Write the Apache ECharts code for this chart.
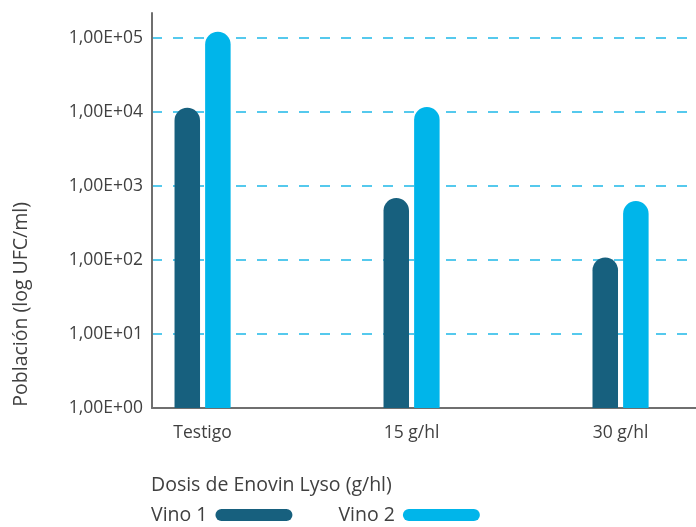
<!DOCTYPE html>
<html>
<head>
<meta charset="utf-8">
<script src="https://cdn.jsdelivr.net/npm/echarts@6/dist/echarts.min.js"></script>
<style>
html,body{margin:0;padding:0;background:#fff;}
#chart{width:696px;height:527px;}
</style>
</head>
<body>
<div id="chart"></div>
<script>
var categories = ['Testigo', '15 g/hl', '30 g/hl'];
var vino1 = [11500, 690, 108];
var vino2 = [122000, 11700, 630];
var yTicks = [1, 10, 100, 1000, 10000, 100000];
var yTickLabels = ['1,00E+00', '1,00E+01', '1,00E+02', '1,00E+03', '1,00E+04', '1,00E+05'];
var seriesNames = ['Vino 1', 'Vino 2'];
var xTitle = 'Dosis de Enovin Lyso (g/hl)';
var yTitle = 'Población (log UFC/ml)';

var textColor = '#404040';
var font = '"Open Sans", sans-serif';
var pill = 'path://M6,0 H71 A6,6 0 0 1 71,12 H6 A6,6 0 0 1 6,0 Z';

function toPoints(arr) { return arr.map(function (v, i) { return [i, v]; }); }

var chart = echarts.init(document.getElementById('chart'));
chart.setOption({
  animation: false,
  backgroundColor: '#fff',
  title: {
    text: xTitle,
    left: 151,
    top: 475,
    padding: 0,
    textStyle: { color: textColor, fontFamily: font, fontSize: 19.5, fontWeight: 'normal' }
  },
  legend: {
    left: 151,
    top: 505,
    padding: 0,
    align: 'right',
    itemWidth: 77,
    itemHeight: 12,
    itemGap: 46,
    data: [
      { name: seriesNames[0], icon: pill },
      { name: seriesNames[1], icon: pill }
    ],
    textStyle: { color: textColor, fontFamily: font, fontSize: 19.5, padding: [0, 3, 0, 0] }
  },
  graphic: [{
    type: 'text',
    left: 11,
    top: 202,
    rotation: Math.PI / 2,
    style: { text: yTitle, fill: textColor, font: '19.5px ' + font }
  }],
  grid: { left: 152, right: 0, top: 13, bottom: 119, containLabel: false },
  xAxis: {
    type: 'value',
    min: -0.242,
    max: 2.361,
    axisLine: { show: true, onZero: false, lineStyle: { color: '#6f6f6f', width: 2 } },
    axisTick: { show: false },
    splitLine: { show: false },
    axisLabel: {
      customValues: [0, 1, 2],
      margin: 16,
      color: textColor,
      fontFamily: font,
      fontSize: 17.5,
      formatter: function (v) { return categories[Math.round(v)] || ''; }
    }
  },
  yAxis: {
    type: 'log',
    logBase: 10,
    min: 1,
    max: 219000,
    axisLine: { show: true, onZero: false, lineStyle: { color: '#6f6f6f', width: 2 } },
    axisTick: { show: false },
    axisLabel: {
      customValues: yTicks,
      margin: 9,
      color: textColor,
      fontFamily: font,
      fontSize: 17.5,
      formatter: function (v) {
        var idx = yTicks.indexOf(Math.round(v));
        return idx >= 0 ? yTickLabels[idx] : '';
      }
    },
    splitLine: {
      show: true,
      showMinLine: false,
      showMaxLine: false,
      lineStyle: { color: '#1eb8e8', width: 1.5, type: [10, 11] }
    }
  },
  series: [
    {
      name: seriesNames[0],
      type: 'bar',
      data: toPoints(vino1),
      barWidth: 25.5,
      barGap: '20%',
      itemStyle: { color: '#17607e', borderRadius: [13, 13, 0, 0] }
    },
    {
      name: seriesNames[1],
      type: 'bar',
      data: toPoints(vino2),
      barWidth: 25.5,
      barGap: '20%',
      itemStyle: { color: '#00b5ea', borderRadius: [13, 13, 0, 0] }
    }
  ]
});
</script>
</body>
</html>
